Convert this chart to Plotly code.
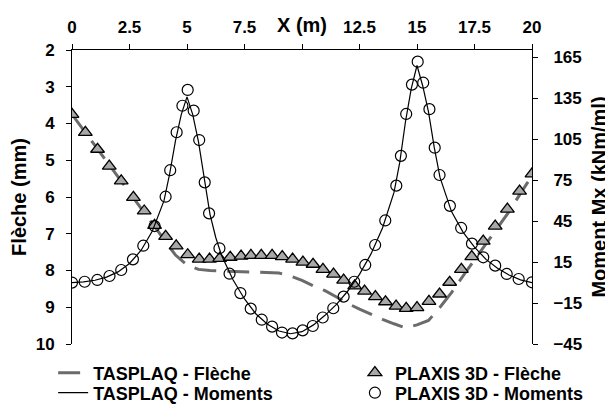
import plotly.graph_objects as go

# ---- data ----
# TASPLAQ - Flèche (deflection, mm) : dashed line
tas_fl_x = [0, 1, 2, 3, 4, 4.5, 5, 5.5, 6, 7, 8, 9, 9.5, 10, 10.5, 11, 11.5, 12, 12.5,
            13, 13.5, 14, 14.5, 15, 15.5, 16, 16.5, 17, 17.5, 18, 18.5, 19, 19.5, 20]
tas_fl_y = [3.75, 4.60, 5.45, 6.31, 7.16, 7.58, 7.85, 7.97, 8.00, 8.02, 8.03, 8.07, 8.15,
            8.27, 8.42, 8.55, 8.72, 8.90, 9.05, 9.20, 9.33, 9.45, 9.56, 9.48, 9.36, 9.0,
            8.6, 8.15, 7.72, 7.28, 6.85, 6.40, 5.90, 5.42]

# PLAXIS 3D - Flèche : triangles
plx_fl_x = [0, 0.58, 1.11, 1.62, 2.14, 2.67, 3.14, 3.59, 4.07, 4.53, 5.03, 5.53, 5.98,
            6.42, 6.88, 7.35, 7.78, 8.23, 8.70, 9.14, 9.59, 10.04, 10.48, 10.91, 11.37,
            11.81, 12.29, 12.72, 13.19, 13.63, 14.09, 14.53, 15.00, 15.52, 15.98, 16.42,
            16.93, 17.38, 17.88, 18.40, 18.93, 19.46, 20.0]
plx_fl_y = [3.75, 4.24, 4.70, 5.16, 5.56, 6.01, 6.38, 6.77, 7.07, 7.33, 7.57, 7.69, 7.69,
            7.67, 7.64, 7.61, 7.59, 7.59, 7.59, 7.62, 7.69, 7.77, 7.83, 7.97, 8.10, 8.26,
            8.42, 8.56, 8.71, 8.85, 8.97, 9.03, 9.01, 8.84, 8.64, 8.32, 7.97, 7.62, 7.20,
            6.79, 6.33, 5.84, 5.37]

# TASPLAQ - Moments (kNm/ml) : solid line
tas_m_x = [0, 0.5, 1, 1.5, 2, 2.5, 3, 3.5, 4, 4.25, 4.5, 4.75, 5, 5.25, 5.5, 5.75, 6,
           6.25, 6.5, 7, 7.5, 8, 8.5, 9, 9.5, 10, 10.5, 11, 11.5, 12, 12.5, 13, 13.5,
           14, 14.25, 14.5, 14.75, 15, 15.25, 15.5, 15.75, 16, 16.5, 17, 17.5, 18, 18.5,
           19, 19.5, 20]
tas_m_y = [0, 0.5, 1.7, 4, 7.8, 14, 23.5, 38, 60, 80, 104, 123, 136, 123, 103, 75, 50,
           33, 20, 2, -12, -23, -30.5, -35.5, -37.5, -36, -31, -24, -16, -6, 6, 21, 40,
           66, 88, 118, 142, 159, 144, 125, 99, 77, 52, 37, 26, 17, 10.5, 5.5, 2, 0]

# PLAXIS 3D - Moments : circles
plx_m_x = [0, 0.55, 1.1, 1.63, 2.14, 2.65, 3.1, 3.59, 4.07, 4.27, 4.55, 4.8, 5.03, 5.29,
           5.53, 5.77, 5.96, 6.41, 6.85, 7.32, 7.77, 8.25, 8.70, 9.13, 9.59, 10.03, 10.47,
           10.9, 11.36, 11.81, 12.27, 12.75, 13.18, 13.62, 14.1, 14.3, 14.53, 14.78,
           15.03, 15.27, 15.54, 15.77, 15.98, 16.43, 16.92, 17.39, 17.88, 18.4, 18.9,
           19.42, 20]
plx_m_y = [0, 0.6, 1.9, 4.8, 9.2, 17.0, 27, 41.4, 62.9, 82.3, 110.1, 129.5, 141.1, 125.9,
           104.4, 73.4, 50.7, 25.1, 6.5, -7.7, -19.1, -27.2, -32.3, -36.6, -37.2, -35.0,
           -31.8, -25.6, -18.8, -10.3, 0.6, 12.9, 27.5, 45.5, 71, 92.8, 123.5, 145, 161.8,
           146.4, 127, 98.8, 78.8, 56.2, 40, 28.5, 18.5, 12.4, 6.3, 2.6, 0.2]

x_ticks = [0, 2.5, 5, 7.5, 10, 12.5, 15, 17.5, 20]
x_ticktext = ["0", "2.5", "5", "7.5", "", "12.5", "15", "17.5", "20"]
y1_ticks = [2, 3, 4, 5, 6, 7, 8, 9, 10]
y2_ticks = [-45, -15, 15, 45, 75, 105, 135, 165]
y2_range = [-45, 170.35]

FONT = "Liberation Sans, Arial, sans-serif"

fig = go.Figure()
fig.add_trace(go.Scatter(x=tas_fl_x, y=tas_fl_y, mode="lines", name="TASPLAQ - Flèche",
                         line=dict(color="#6b6b6b", width=3, dash="22px,11px"),
                         legend="legend", yaxis="y"))
fig.add_trace(go.Scatter(x=tas_m_x, y=tas_m_y, mode="lines", name="TASPLAQ - Moments",
                         line=dict(color="black", width=1.2),
                         legend="legend2", yaxis="y2"))
fig.add_trace(go.Scatter(x=plx_fl_x, y=plx_fl_y, mode="markers", name="PLAXIS 3D - Flèche",
                         marker=dict(symbol="triangle-up", size=12, color="#a8a8a8",
                                     line=dict(color="black", width=1.3)),
                         legend="legend3", yaxis="y"))
fig.add_trace(go.Scatter(x=plx_m_x, y=plx_m_y, mode="markers", name="PLAXIS 3D - Moments",
                         marker=dict(symbol="circle-open", size=11, color="black",
                                     line=dict(color="black", width=1.2)),
                         legend="legend4", yaxis="y2"))

axis_font = dict(family=FONT, size=17, color="black", weight="bold")
title_font = dict(family=FONT, size=20, color="black", weight="bold")
legend_font = dict(family=FONT, size=18, color="black", weight="bold")


def leg(x, y):
    return dict(x=x, y=y, xanchor="left", yanchor="middle", orientation="v",
                font=legend_font, bgcolor="rgba(0,0,0,0)", itemwidth=30)


fig.update_layout(
    width=605, height=396,
    margin=dict(l=64, r=81, t=42, b=60, autoexpand=False),
    plot_bgcolor="white", paper_bgcolor="white",
    showlegend=True,
    xaxis=dict(range=[0, 20], side="top", tickvals=x_ticks, ticktext=x_ticktext,
               showgrid=False, zeroline=False, showline=True, linecolor="black",
               linewidth=1, ticks="outside", ticklen=5, tickcolor="black",
               tickfont=axis_font, ticklabelstandoff=4, automargin=False),
    yaxis=dict(range=[10, 2], tickvals=y1_ticks, showgrid=False, zeroline=False,
               showline=True, linecolor="black", linewidth=1, ticks="outside",
               ticklen=5, tickcolor="black", tickfont=axis_font, ticklabelstandoff=8,
               automargin=False,
               title=dict(text="Flèche (mm)", font=title_font, standoff=8)),
    yaxis2=dict(range=y2_range, tickvals=y2_ticks, overlaying="y", side="right",
                showgrid=False, zeroline=False, showline=True, linecolor="black",
                linewidth=1, ticks="outside", ticklen=5, tickcolor="black",
                tickfont=axis_font, ticklabelstandoff=12, automargin=False,
                title=dict(text="Moment Mx (kNm/ml)", font=title_font, standoff=10)),
    # inner half of the right-axis tick marks (ticks cross the axis line)
    yaxis3=dict(range=y2_range, tickvals=y2_ticks, overlaying="y", side="right",
                anchor="x", showgrid=False, zeroline=False, showline=False,
                ticks="inside", ticklen=5, tickcolor="black", showticklabels=False,
                automargin=False),
    legend=leg(-0.041, -0.0986),
    legend2=leg(-0.041, -0.1667),
    legend3=leg(0.615, -0.0986),
    legend4=leg(0.615, -0.1667),
    annotations=[dict(x=10, y=1, xref="x", yref="paper", text="X (m)", showarrow=False,
                      xanchor="center", yanchor="middle", yshift=25, font=title_font)],
)

fig.write_html("out.html")
